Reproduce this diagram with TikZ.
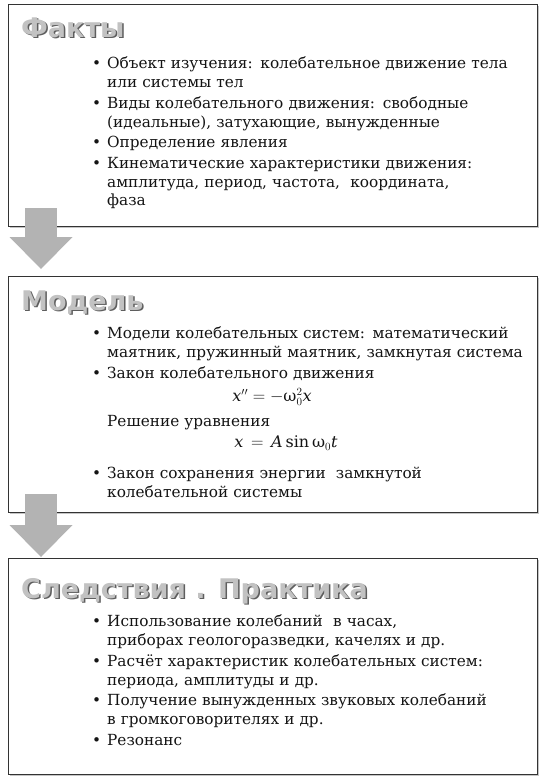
\documentclass[tikz,border=0pt]{standalone}
\usepackage{fontspec}
\setmainfont{DejaVu Serif}
\newfontfamily\headfont{DejaVu Sans}
\usepackage{tikz}
\usetikzlibrary{arrows.meta,positioning,shadows}
\definecolor{panelline}{HTML}{333333}
\definecolor{arrowgray}{HTML}{B3B3B3}
\definecolor{headlight}{HTML}{C2C2C2}
\definecolor{headdark}{HTML}{5E5E5E}
\definecolor{bodyink}{HTML}{141414}

\newenvironment{dotlist}{%
  \list{\textbullet}{\leftmargin=15pt \labelwidth=15pt \labelsep=0pt
    \itemsep=2pt \parsep=0pt \topsep=0pt \partopsep=0pt
    \def\makelabel##1{##1\hfil}}}{\endlist}

\begin{document}
\begin{tikzpicture}[x=1pt, y=-1pt,
    panel/.style={draw=panelline, line width=1.4pt, fill=white, minimum width=529pt, anchor=north west, inner sep=0pt,
      drop shadow={shadow xshift=1.2pt, shadow yshift=-1.2pt, fill=black!45}},
    heading/.style={anchor=base west, inner sep=0pt, font=\headfont\bfseries\fontsize{27}{30}\selectfont, text=headlight},
    headshade/.style={heading, text=headdark},
    listtext/.style={anchor=north west, inner sep=0pt, text width=440pt, align=left, text=bodyink, font=\rmfamily\fontsize{15.3}{18.7}\selectfont},
    formula/.style={inner sep=0pt, text=bodyink, font=\rmfamily\fontsize{16}{19}\selectfont},
    blockarrow/.style={line width=32pt, draw=arrowgray, -{Triangle[length=32pt, width=63pt, line width=0pt]}}
  ]
  \useasboundingbox (0,0) rectangle (542,782);

  \node[panel, minimum height=222pt] (facts) at (8,4) {};
  \node[panel, minimum height=236pt] (model) at (8,276) {};
  \node[panel, minimum height=216pt] (practice) at (8,558) {};

  \draw[blockarrow] ([xshift=33pt, yshift=19pt]facts.south west) -- ([xshift=33pt, yshift=7pt]model.north west);
  \draw[blockarrow] ([xshift=33pt, yshift=19pt]model.south west) -- ([xshift=33pt, yshift=1pt]practice.north west);

  \node[headshade] (factsshade) at ([xshift=14.5pt, yshift=-34.5pt]facts.north west) {Факты};
  \node[heading] (factstitle) at ([xshift=-1.5pt, yshift=1.5pt]factsshade.base west) {Факты};
  \node[listtext] (factslist) at ([xshift=84pt, yshift=-46pt]facts.north west) {%
    \begin{dotlist}
    \item Объект изучения: колебательное движение тела\newline или системы тел
    \item Виды колебательного движения: свободные\newline (идеальные), затухающие, вынужденные
    \item Определение явления
    \item Кинематические характеристики движения:\newline амплитуда, период, частота,~ координата,\newline фаза
    \end{dotlist}};

  \node[headshade] (modelshade) at ([xshift=14.5pt, yshift=-35.5pt]model.north west) {Модель};
  \node[heading] (modeltitle) at ([xshift=-1.5pt, yshift=1.5pt]modelshade.base west) {Модель};
  \node[listtext] (modellist) at ([xshift=84pt, yshift=-44pt]model.north west) {%
    \begin{dotlist}
    \item Модели колебательных систем: математический\newline маятник, пружинный маятник, замкнутая система
    \item Закон колебательного движения
    \end{dotlist}};
  \node[formula] (motion) at ([xshift=264pt, yshift=-121pt]model.north west) {$\mathit{x}'' = -\mbox{ω}_0^2\mathit{x}$};
  \node[listtext] (solvelabel) at ([xshift=99pt, yshift=-139pt]model.north west) {Решение уравнения};
  \node[formula] (solution) at ([xshift=278pt, yshift=-167pt]model.north west) {$\mathit{x} \,=\, \mathit{A}\sin\mbox{ω}_0\mathit{t}$};
  \node[listtext] (energylist) at ([xshift=84pt, yshift=-184pt]model.north west) {%
    \begin{dotlist}
    \item Закон сохранения энергии~ замкнутой\newline колебательной системы
    \end{dotlist}};

  \node[headshade] (practiceshade) at ([xshift=14.5pt, yshift=-41.5pt]practice.north west) {Следствия . Практика};
  \node[heading] (practicetitle) at ([xshift=-1.5pt, yshift=1.5pt]practiceshade.base west) {Следствия . Практика};
  \node[listtext] (practicelist) at ([xshift=84pt, yshift=-50pt]practice.north west) {%
    \begin{dotlist}
    \item Использование колебаний~ в часах,\newline приборах геологоразведки, качелях и др.
    \item Расчёт характеристик колебательных систем:\newline периода, амплитуды и др.
    \item Получение вынужденных звуковых колебаний\newline в громкоговорителях и др.
    \item Резонанс
    \end{dotlist}};
\end{tikzpicture}
\end{document}
